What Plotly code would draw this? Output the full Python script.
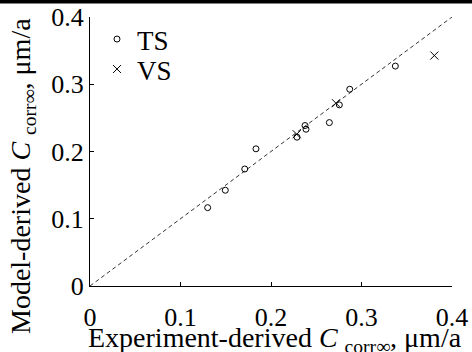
import plotly.graph_objects as go

ts_exp = [0.130, 0.1495, 0.171, 0.1834, 0.2287, 0.2376, 0.2387, 0.2645, 0.2755, 0.287, 0.3374]
ts_mod = [0.1165, 0.1424, 0.174, 0.204, 0.2213, 0.2386, 0.2331, 0.243, 0.2693, 0.2926, 0.327]
vs_exp = [0.2284, 0.2718, 0.3805]
vs_mod = [0.2257, 0.2718, 0.3427]
diag = [0, 0.4]
ticks = [0, 0.1, 0.2, 0.3, 0.4]
tick_text = ["0", "0.1", "0.2", "0.3", "0.4"]

FONT = "Liberation Serif"

# plot area in pixels
L, R, T, B = 90, 20, 17, 66
W, H = 472, 352
PW, PH = W - L - R, H - T - B


def px(x):
    return (x - L) / PW


def py(y):
    return (H - B - y) / PH


fig = go.Figure()
fig.add_trace(go.Scatter(x=diag, y=diag, mode="lines", showlegend=False,
                         line=dict(color="#333333", width=1, dash="4px,3px")))
fig.add_trace(go.Scatter(x=ts_exp, y=ts_mod, mode="markers", name="TS", legend="legend",
                         marker=dict(symbol="circle-open", size=6, color="black",
                                     line=dict(width=1, color="black"))))
fig.add_trace(go.Scatter(x=vs_exp, y=vs_mod, mode="markers", name="VS", legend="legend2",
                         marker=dict(symbol="x-thin-open", size=8, color="black",
                                     line=dict(width=1, color="black"))))

axis_common = dict(range=[0, 0.4], tickvals=ticks, ticktext=tick_text,
                   ticks="inside", ticklen=4, tickcolor="black", tickwidth=1,
                   showline=True, linecolor="black", linewidth=1, mirror=False,
                   showgrid=False, zeroline=False, automargin=False,
                   tickfont=dict(family=FONT, size=26, color="black"))

leg_common = dict(xanchor="left", yanchor="middle", bgcolor="rgba(0,0,0,0)",
                  font=dict(family=FONT, size=27, color="black"), itemwidth=30,
                  borderwidth=0)

fig.update_layout(
    width=W, height=H,
    margin=dict(l=L, r=R, t=T, b=B, autoexpand=False),
    plot_bgcolor="rgba(0,0,0,0)", paper_bgcolor="rgba(0,0,0,0)",
    font=dict(family=FONT, color="black"),
    xaxis=dict(**axis_common, ticklabelstandoff=8),
    yaxis=dict(**axis_common),
    legend=dict(**leg_common, x=px(97), y=py(39.5)),
    legend2=dict(**leg_common, x=px(97), y=py(69.5)),
    annotations=[
        dict(text="Experiment-derived <i>C</i> <sub>corr∞</sub>, μm/a", xref="paper", yref="paper",
             x=px(275), y=py(339), xanchor="center", yanchor="middle", showarrow=False,
             font=dict(family=FONT, size=28, color="black")),
        dict(text="Model-derived <i>C</i> <sub>corr∞</sub>, μm/a", xref="paper", yref="paper",
             x=px(22), y=py(176), xanchor="center", yanchor="middle", showarrow=False,
             textangle=-90, font=dict(family=FONT, size=28, color="black")),
    ],
    shapes=[dict(type="rect", xref="paper", yref="paper", layer="above",
                 x0=px(-2), x1=px(W + 2), y0=py(3.5), y1=py(-4),
                 fillcolor="black", line=dict(width=0))],
)

fig.write_html("out.html", config={"displayModeBar": False},
               post_script="document.body.style.margin='0';document.body.style.padding='0';"
                           "document.documentElement.style.overflow='hidden';"
                           "document.documentElement.style.background="
                           "'linear-gradient(to bottom, #000 0px, #000 3px, #fff 3px, #fff 100%)';")
